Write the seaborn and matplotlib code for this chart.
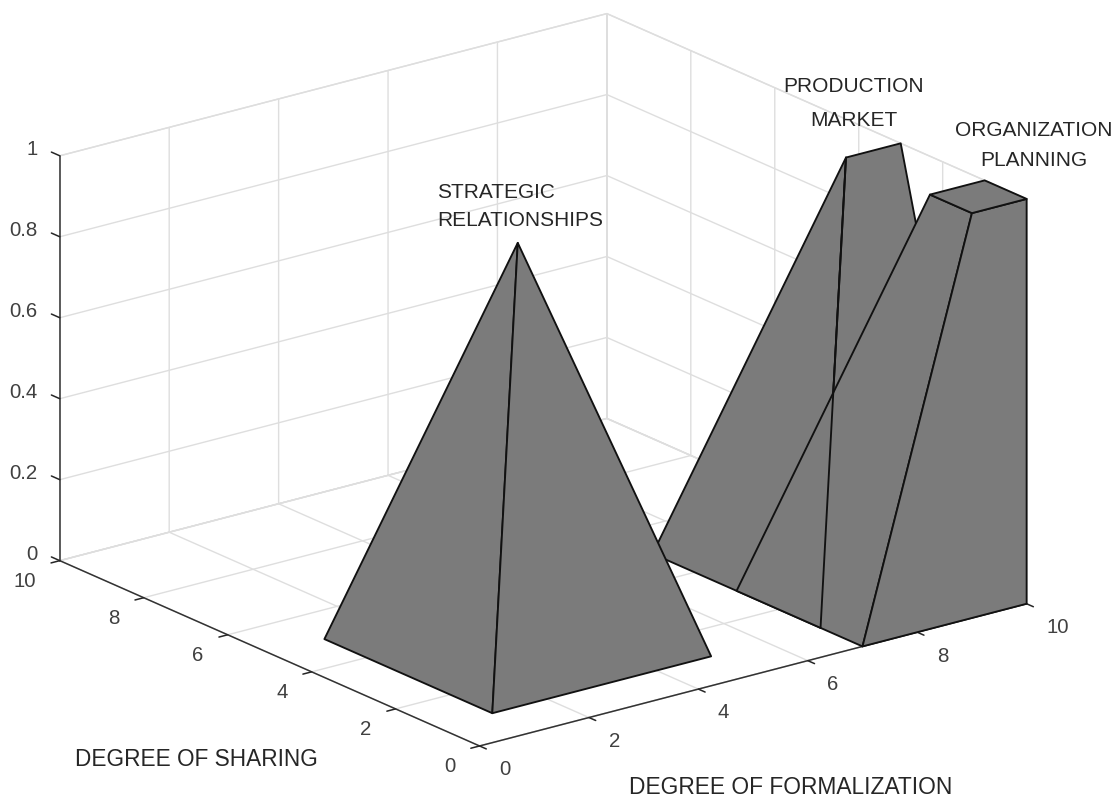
import matplotlib
matplotlib.use("Agg")
import matplotlib.pyplot as plt
from matplotlib.transforms import ScaledTranslation
import seaborn as sns
from mpl_toolkits.mplot3d.art3d import Poly3DCollection

# axis ticks
x_ticks = [0, 2, 4, 6, 8, 10]
y_ticks = [0, 2, 4, 6, 8, 10]
z_ticks = [0, 0.2, 0.4, 0.6, 0.8, 1]
z_labels = ["0", "0.2", "0.4", "0.6", "0.8", "1"]

# strategic relationships: pyramid
strategic_x = [1, 5, 1, 3]
strategic_y = [1, 1, 5, 3]
strategic_z = [0, 0, 0, 1]
strategic_faces = [[0, 1, 3], [0, 2, 3]]

# production / market: ridge
production_x = [7, 10, 7, 9, 10]
production_y = [1, 1, 5, 3, 3]
production_z = [0, 0, 0, 1, 1]
production_faces = [[0, 1, 4, 3], [0, 2, 3]]
# this edge shows through the organization solid in the original
production_edge = [0, 3]

# organization / planning: flat top
organization_x = [7, 10, 7, 9, 10, 9, 10]
organization_y = [0, 0, 3, 0, 0, 1, 1]
organization_z = [0, 0, 0, 1, 1, 1, 1]
organization_faces = [[0, 1, 4, 3], [0, 2, 5, 3], [3, 4, 6, 5]]

sns.set_style("white")
plt.rcParams["font.family"] = ["Liberation Sans", "DejaVu Sans"]

W, H = 1120, 799
fig = plt.figure(figsize=(W / 100, H / 100), dpi=100, facecolor="white")
ax = fig.add_axes([-73 / W, -197 / H, 1200 / W, 1200 / H], projection="3d",
                  computed_zorder=False)
ax.set_proj_type("ortho")
ax.view_init(elev=19.8, azim=-127.5)
ax.set_box_aspect((1, 1, 0.624), zoom=0.8623)
ax.set_xlim(0, 10, view_margin=0)
ax.set_ylim(0, 10, view_margin=0)
ax.set_zlim(0, 1, view_margin=0)
ax.patch.set_alpha(0)

ax.set_xticks(x_ticks)
ax.set_yticks(y_ticks)
ax.set_zticks(z_ticks, z_labels)
ax.tick_params(labelsize=14.7, labelcolor="#404040", pad=6)
ax.tick_params(axis="z", pad=3)

# z axis goes on the left corner, its ticks run along y like the original
ax.zaxis.set_ticks_position("upper")
ax.zaxis._get_tickdir = lambda pos: 1

for axis in (ax.xaxis, ax.yaxis, ax.zaxis):
    axis.set_pane_color((1, 1, 1, 1))
    axis.pane.set_edgecolor("#dedede")
    axis.line.set_color("#333333")
    axis.line.set_linewidth(1.1)
    axis._axinfo["grid"].update(color="#dedede", linewidth=1.0)
    axis._axinfo["tick"].update(inward_factor=0.2, outward_factor=0,
                                linewidth={True: 1.1, False: 1.1},
                                color="#333333")
ax.zaxis._axinfo["tick"].update(inward_factor=0, outward_factor=0.25)
ax.grid(True)


# Axis3D resets label transforms in get_major_ticks, so the offset goes there
def nudge(axis, ha, dx, dy):
    offset = ScaledTranslation(dx / 100, dy / 100, fig.dpi_scale_trans)
    get_ticks = axis.get_major_ticks

    def shifted_ticks(numticks=None):
        ticks = get_ticks(numticks)
        for t in ticks:
            t.label1.set_ha(ha)
            t.label1.set_transform(ax.transData + offset)
        return ticks

    axis.get_major_ticks = shifted_ticks


nudge(ax.xaxis, "left", 6.5, 4)
nudge(ax.yaxis, "right", -7, 5.5)
nudge(ax.zaxis, "right", 1.5, 14.5)


def add_solid(xs, ys, zs, faces):
    verts = [[(xs[i], ys[i], zs[i]) for i in face] for face in faces]
    ax.add_collection3d(Poly3DCollection(verts, facecolors="#7b7b7b",
                                         edgecolors="#111111",
                                         linewidths=1.35))


add_solid(production_x, production_y, production_z, production_faces)
add_solid(organization_x, organization_y, organization_z, organization_faces)
add_solid(strategic_x, strategic_y, strategic_z, strategic_faces)
ax.plot([production_x[i] for i in production_edge],
        [production_y[i] for i in production_edge],
        [production_z[i] for i in production_edge],
        color="#111111", linewidth=1.35)


def label(px, py, s, size=15, ha="center"):
    fig.text(px / W, 1 - py / H, s, fontsize=size, ha=ha, va="center",
             color="#262626")


label(437, 193, "STRATEGIC", ha="left")
label(437, 220, "RELATIONSHIPS", ha="left")
label(854, 86, "PRODUCTION")
label(854, 120, "MARKET")
label(1034, 131, "ORGANIZATION")
label(1034, 160, "PLANNING")
label(75, 759, "DEGREE OF SHARING", size=16.3, ha="left")
label(629, 788, "DEGREE OF FORMALIZATION", size=16.4, ha="left")

fig.savefig("out.png", dpi=100)
